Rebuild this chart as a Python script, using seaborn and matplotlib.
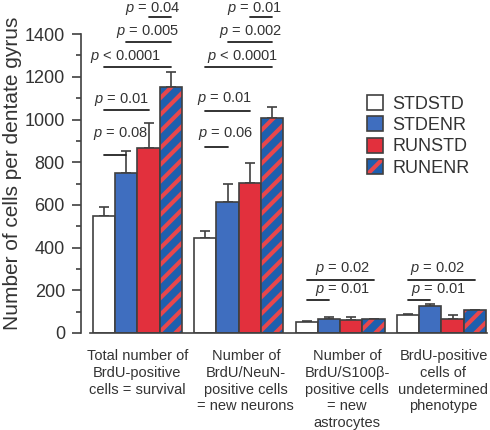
import numpy as np
import pandas as pd
import matplotlib
matplotlib.use("Agg")
import matplotlib.pyplot as plt
import seaborn as sns
from matplotlib.patches import Patch, Rectangle

#----- data -----
regions = ["Total number of\nBrdU-positive\ncells = survival",
           "Number of\nBrdU/NeuN-\npositive cells\n= new neurons",
           "Number of\nBrdU/S100\u03b2-\npositive cells\n= new\nastrocytes",
           "BrdU-positive\ncells of\nundetermined\nphenotype"]
conditions = ["STDSTD", "STDENR", "RUNSTD", "RUNENR"]

stdstd = [548, 445, 51, 83]
stdenr = [749, 613, 66, 126]
runstd = [866, 702, 61, 66]
runenr = [1152, 1006, 66, 108]

stdstd_err = [42, 32, 5, 5]
stdenr_err = [103, 84, 9, 8]
runstd_err = [117, 94, 12, 17]
runenr_err = [70, 52, 0, 0]

# significance brackets: group, bar from, bar to, line height, label
sig_group = [0, 0, 0, 0, 0, 1, 1, 1, 1, 1, 2, 2, 3, 3]
sig_from = [0, 0, 0, 1, 2, 0, 0, 0, 1, 2, 0, 0, 0, 0]
sig_to = [1, 2, 3, 3, 3, 1, 2, 3, 3, 3, 3, 1, 3, 1]
sig_height = [833, 1044, 1245, 1362, 1479, 871, 1039, 1245, 1362, 1479, 248, 154, 248, 154]
sig_label = ["= 0.08", "= 0.01", "< 0.0001", "= 0.005", "= 0.04",
             "= 0.06", "= 0.01", "< 0.0001", "= 0.002", "= 0.01",
             "= 0.02", "= 0.01", "= 0.02", "= 0.01"]
# text placement (layout)
sig_text_x = [-0.17, -0.16, -0.12, 0.10, 0.15,
              -0.135, -0.14, 0.04, 0.12, 0.155,
              0.02, 0.025, -0.035, -0.03]
sig_text_y = [936, 1095, 1297, 1414, 1522, 936, 1100, 1297, 1414, 1522, 300, 206, 300, 206]
region_label_dx = [0.0, 0.07, 0.07, 0.02]

#----- style -----
sns.set_style("ticks")
plt.rcParams["font.family"] = ["Liberation Sans", "DejaVu Sans"]
plt.rcParams["mathtext.fontset"] = "custom"
plt.rcParams["mathtext.it"] = "Liberation Sans:italic"
plt.rcParams["mathtext.rm"] = "Liberation Sans"
plt.rcParams["hatch.linewidth"] = 5.5
plt.rcParams["hatch.color"] = "#1f5fae"

dark = "#404040"
white_c = "#ffffff"
blue_c = "#3f6ebf"
red_c = "#e2303d"
hatch_face = "#e8474c"
hatch_c = "#1f5fae"
palette = {"STDSTD": white_c, "STDENR": blue_c, "RUNSTD": red_c, "RUNENR": hatch_face}

df = pd.DataFrame({
    "region": np.repeat(np.arange(4), 4),
    "condition": conditions * 4,
})
means = np.array([stdstd, stdenr, runstd, runenr])
errs = np.array([stdstd_err, stdenr_err, runstd_err, runenr_err])
df["count"] = [means[c, r] for r in range(4) for c in range(4)]

fig = plt.figure(figsize=(4.9, 4.3), dpi=100)
ax = fig.add_axes([0.165, 0.2256, 0.829, 0.695])

sns.barplot(data=df, x="region", y="count", hue="condition", hue_order=conditions,
            palette=palette, saturation=1, width=0.88, edgecolor=dark, linewidth=1.2,
            errorbar=None, legend=False, ax=ax, zorder=2)
bar_conts = list(ax.containers)

# hatched RUNENR bars: blue stripes, outline drawn on top
for p in bar_conts[3]:
    p.set_edgecolor(hatch_c)
    p.set_hatch("//")
    p.set_linewidth(0)
    ax.add_patch(Rectangle(p.get_xy(), p.get_width(), p.get_height(), fill=False,
                           edgecolor=dark, linewidth=1.2, zorder=3))

# upper error bars
centers = []
for i, cont in enumerate(bar_conts):
    xs = [p.get_x() + p.get_width() / 2 for p in cont]
    centers.append(xs)
    ax.errorbar(xs, means[i], yerr=[np.zeros(4), errs[i]], fmt="none",
                ecolor=dark, elinewidth=1.2, capsize=3.5, capthick=1.2, zorder=1)

# significance lines
for g, a, b, h, lab, tx, ty in zip(sig_group, sig_from, sig_to, sig_height,
                                   sig_label, sig_text_x, sig_text_y):
    ax.plot([centers[a][g], centers[b][g]], [h, h], color="#222222", lw=1.3,
            clip_on=False, zorder=4)
    ax.text(g + tx, ty, "$p$ " + lab, ha="center", va="center", fontsize=10.5,
            color="#333333", clip_on=False)

ax.set_xlim(-0.558, 3.45)
ax.set_ylim(0, 1400)
ax.set_yticks(np.arange(0, 1401, 200))
ax.set_yticks(np.arange(100, 1400, 200), minor=True)
ax.set_xticks([])
ax.set_xlabel("")
ax.set_ylabel("Number of cells per dentate gyrus", fontsize=15, color="#333333")
ax.yaxis.set_label_coords(-0.145, 0.535)
ax.tick_params(axis="y", which="major", length=6.5, width=1.2, color=dark,
               labelsize=13, labelcolor="#333333", pad=5)
ax.tick_params(axis="y", which="minor", length=3.5, width=1.2, color=dark)
sns.despine(ax=ax)
ax.spines["left"].set_color(dark)
ax.spines["left"].set_linewidth(1.2)
ax.spines["bottom"].set_color(dark)
ax.spines["bottom"].set_linewidth(1.2)
ax.spines["bottom"].set_bounds(-0.47, 3.45)

# category labels
for g, lab in enumerate(regions):
    ax.text(g + region_label_dx[g], -0.054, lab, transform=ax.get_xaxis_transform(),
            ha="center", va="top", fontsize=10.5, color="#333333", linespacing=1.25)

# legend
handles = [Patch(facecolor=white_c, edgecolor=dark, linewidth=1.2),
           Patch(facecolor=blue_c, edgecolor=dark, linewidth=1.2),
           Patch(facecolor=red_c, edgecolor=dark, linewidth=1.2),
           (Patch(facecolor=hatch_face, edgecolor=hatch_c, hatch="//", linewidth=0),
            Patch(facecolor="none", edgecolor=dark, linewidth=1.2))]
fig.legend(handles, conditions, loc="upper left", bbox_to_anchor=(0.749, 0.779),
           frameon=False, fontsize=13, handlelength=0.9, handleheight=0.9,
           handletextpad=0.5, labelspacing=0.2, borderaxespad=0, borderpad=0,
           labelcolor="#333333")

fig.savefig("out.png", dpi=100)
